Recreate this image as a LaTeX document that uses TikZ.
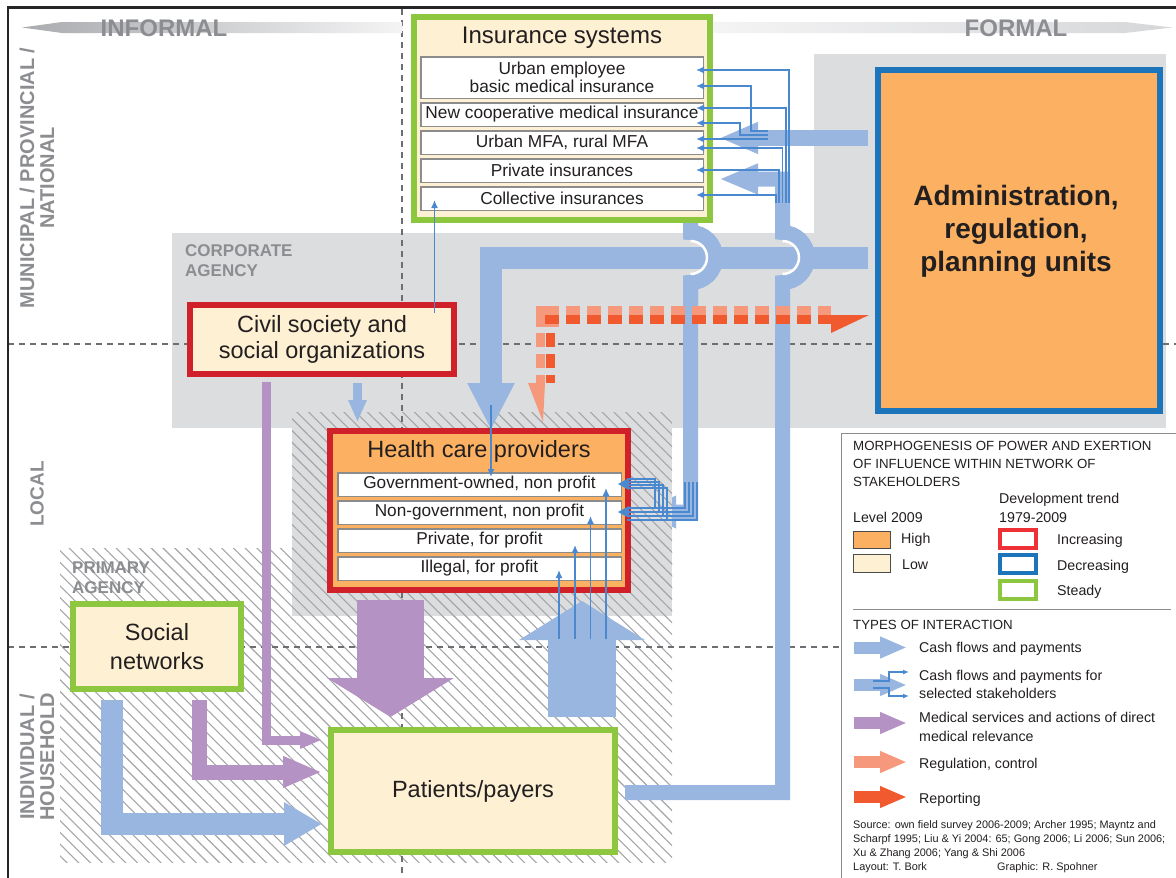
\documentclass[tikz,border=0pt]{standalone}
\usepackage{fontspec}
\setmainfont{Liberation Sans}
\usetikzlibrary{arrows.meta,patterns.meta}
\definecolor{cashblue}{HTML}{98B6DF}
\definecolor{thinblue}{HTML}{4A89CF}
\definecolor{purp}{HTML}{B592C4}
\definecolor{salm}{HTML}{F5987B}
\definecolor{repred}{HTML}{F15A2F}
\definecolor{grayreg}{HTML}{DCDDDE}
\definecolor{hatchc}{HTML}{A3A5A8}
\definecolor{labgray}{HTML}{8B8D90}
\definecolor{dashc}{HTML}{6D6E71}
\definecolor{creamf}{HTML}{FEF0D3}
\definecolor{orangef}{HTML}{FBB161}
\definecolor{greenb}{HTML}{8DC63F}
\definecolor{redb}{HTML}{D0202A}
\definecolor{legred}{HTML}{EE3137}
\definecolor{blueb}{HTML}{1C75BB}
\definecolor{rowgray}{HTML}{8C8C8C}
\definecolor{textc}{HTML}{231F20}
\definecolor{hdrdark}{HTML}{A9ABAE}
\definecolor{hdrlight}{HTML}{F4F4F5}
\definecolor{hdrmid}{HTML}{D6D7D9}
\newcommand{\fsz}[2]{\fontsize{#1}{#2}\selectfont}
\tikzset{
 box/.style={line width=6pt, inner sep=0pt, text=textc, align=center},
 greenbox/.style={box, draw=greenb, fill=creamf},
 redbox/.style={box, draw=redb},
 row/.style={draw=rowgray, fill=white, line width=1.5pt, inner sep=0pt, minimum height=23.5pt, text=textc, align=center},
 tline/.style={draw=thinblue, line width=1.4pt},
 tarr/.style={tline, -{Latex[length=8pt,width=7pt]}},
 lbl/.style={text=labgray, font=\bfseries\fsz{20}{20}, inner sep=0pt, align=center},
 dashsep/.style={draw=dashc, line width=1.8pt, dash pattern=on 6pt off 5pt},
 hatchfill/.style={pattern={Lines[angle=-45,distance=8.3pt,line width=1.1pt]}, pattern color=hatchc},
 leg/.style={inner sep=0pt, anchor=base west, text=textc, font=\fsz{14.2}{16}},
 legc/.style={inner sep=0pt, anchor=base west, text=textc, font=\fsz{13.3}{16}},
 src/.style={inner sep=0pt, anchor=base west, text=textc, font=\fsz{10.9}{14}},
 txt/.style={inner sep=0pt, text=textc, align=center},
 regdash/.style={line width=9pt, dash pattern=on 14pt off 7pt},
}
\begin{document}
\begin{tikzpicture}[x=1pt,y=-1pt]
\useasboundingbox (0,0) rectangle (1176,878);
\fill[white] (0,0) rectangle (1176,878);
% regions
\fill[grayreg] (814,54) rectangle (1166,233);
\fill[grayreg] (172,233) rectangle (1166,428);
\fill[hatchfill] (60,548) rectangle (672,862);
% separators
\draw[dashsep] (8,344) -- (1176,344);
\draw[dashsep] (8,647) -- (1176,647);
\draw[dashsep] (402,9) -- (402,878);
% insurance -> providers (full, head under region)
\coordinate (insB) at (690.5,220);
\coordinate (hpR) at (640,512);
\draw[cashblue, line width=15pt, -{Triangle[length=36pt,width=30pt]}] (insB) -- (690.5,232.5) arc[start angle=-90,end angle=90,radius=25] -- (690.5,512) -- (hpR);
% health region
\fill[grayreg] (292,412) rectangle (672,616);
\fill[hatchfill] (292,412) rectangle (672,616);
\draw[dashsep] (402,9) -- (402,878);
% admin -> providers
\coordinate (admL) at (868,257.5);
\coordinate (hpT) at (491,430);
\draw[cashblue, line width=22pt, -{Triangle[length=47pt,width=44pt]}] (admL) -- (491,257.5) -- (hpT);
% bridge redraw
\draw[cashblue, line width=15pt] (insB) -- (690.5,232.5) arc[start angle=-90,end angle=90,radius=25] -- (690.5,300);
\draw[white, line width=2.5pt] (690.5,241) arc[start angle=-90,end angle=90,radius=16.5];
% patients -> insurance
\coordinate (patR) at (625,792.5);
\coordinate (insR2) at (719,179);
\draw[cashblue, line width=15pt, -{Triangle[length=39pt,width=28pt]}] (patR) -- (782.5,792.5) -- (782.5,282.5) arc[start angle=90,end angle=-90,radius=25] -- (782.5,179) -- (insR2);
\draw[white, line width=2.5pt] (782.5,241) arc[start angle=-90,end angle=90,radius=16.5];
% admin -> insurance
\coordinate (admL2) at (868,138);
\coordinate (insR1) at (719,138);
\draw[cashblue, line width=16pt, -{Triangle[length=39pt,width=29pt]}] (admL2) -- (insR1);
% patients -> providers big up arrow
\coordinate (patT) at (582,717);
\coordinate (hpB) at (582,601);
\draw[cashblue, line width=68pt, -{Triangle[length=39pt,width=124pt]}] (patT) -- (hpB);
% providers -> patients big purple
\coordinate (hpB2) at (390.5,600);
\coordinate (patT2) at (390.5,717);
\draw[purp, line width=67pt, -{Triangle[length=39pt,width=125pt]}] (hpB2) -- (patT2);
% civil -> patients purple
\coordinate (civB) at (266,382);
\coordinate (patL1) at (322,740);
\draw[purp, line width=9pt, -{Triangle[length=22pt,width=16pt]}] (civB) -- (266,740) -- (patL1);
% social -> patients purple
\coordinate (socB1) at (199.5,700);
\coordinate (patL2) at (322,772);
\draw[purp, line width=15pt, -{Triangle[length=39pt,width=29pt]}] (socB1) -- (199.5,772) -- (patL2);
% social -> patients blue
\coordinate (socB2) at (111.5,700);
\coordinate (patL3) at (322,824);
\draw[cashblue, line width=22pt, -{Triangle[length=38pt,width=41pt]}] (socB2) -- (111.5,824) -- (patL3);
% civil -> providers small blue
\coordinate (civB2) at (357.5,383);
\coordinate (hpT2) at (357.5,422);
\draw[cashblue, line width=9pt, -{Triangle[length=22pt,width=17pt]}] (civB2) -- (hpT2);
% regulation / reporting
\coordinate (admS) at (831,310.5);
\coordinate (hpS) at (540.5,383);
\coordinate (hpS2) at (550,383);
\coordinate (admS2) at (831,319.5);
\fill[salm] (536,306) rectangle (559,327);
\fill[repred] (545,315) rectangle (559,324);
\draw[salm, regdash] (566,310.5) -- (admS);
\draw[repred, regdash] (566,319.5) -- (admS2);
\draw[salm, regdash] (540.5,333) -- (hpS);
\draw[repred, regdash] (550,333) -- (hpS2);
\fill[salm] (528,383) -- (545,383) -- (543,422) -- cycle;
\fill[repred] (831,315) -- (869,315) -- (831,333) -- cycle;
% header
\shade[left color=hdrdark, right color=hdrlight] (22,27.5) -- (62,22) -- (402,22) -- (402,33) -- (62,33) -- cycle;
\shade[left color=hdrlight, right color=hdrmid] (713,22) -- (1125,22) -- (1172,27.5) -- (1125,33) -- (713,33) -- cycle;
\node[lbl, font=\bfseries\fsz{24}{26}] (informal) at (164,28) {INFORMAL};
\node[lbl, font=\bfseries\fsz{24}{26}] (formal) at (1016,28) {FORMAL};
% frame
\draw[black!85, line width=2.5pt] (8,878) -- (8,7.5) -- (1176,7.5);
% side labels
\node[lbl, rotate=90] (lmun) at (37,178) {MUNICIPAL / PROVINCIAL /\\NATIONAL};
\node[lbl, rotate=90, font=\bfseries\fsz{19}{20}] (lloc) at (37,494) {LOCAL};
\node[lbl, rotate=90] (lind) at (37,757) {INDIVIDUAL /\\HOUSEHOLD};
\node[lbl, font=\bfseries\fsz{17}{20}, align=left, anchor=north west] (corp) at (185,244) {CORPORATE\\AGENCY};
\node[lbl, font=\bfseries\fsz{17}{20}, align=left, anchor=north west] (prim) at (72,562) {PRIMARY\\AGENCY};
% boxes
\node[greenbox, minimum width=296pt, minimum height=203pt] (ins) at (562,118.5) {};
\node[txt, font=\fsz{24}{26}] (institle) at (562,38) {Insurance systems};
\node[row, minimum width=282.5pt, minimum height=41.5pt, font=\fsz{17.3}{18}] (ins1) at (562,77.5) {Urban employee\\basic medical insurance};
\node[row, minimum width=282.5pt, font=\fsz{17.3}{18}] (ins2) at (562,114.5) {New cooperative medical insurance};
\node[row, minimum width=282.5pt, font=\fsz{17.3}{18}] (ins3) at (562,142.5) {Urban MFA, rural MFA};
\node[row, minimum width=282.5pt, font=\fsz{17.3}{18}] (ins4) at (562,170.5) {Private insurances};
\node[row, minimum width=282.5pt, font=\fsz{17.3}{18}] (ins5) at (562,198.5) {Collective insurances};
\node[box, draw=blueb, fill=orangef, minimum width=282pt, minimum height=341pt] (admin) at (1019,240.5) {};
\node[txt, font=\bfseries\fsz{28}{33}] (admintxt) at (1016,231) {Administration,\\regulation,\\planning units};
\node[redbox, fill=creamf, minimum width=264pt, minimum height=69pt, font=\fsz{23.5}{26}] (civil) at (322,339.5) {Civil society and\\social organizations};
\node[redbox, fill=orangef, minimum width=298pt, minimum height=159pt] (health) at (479,510.5) {};
\node[txt, font=\fsz{23.5}{26}] (healthtitle) at (479,451) {Health care providers};
\node[row, minimum width=283.5pt, font=\fsz{17.2}{18}] (hp1) at (479.5,484.5) {Government-owned, non profit};
\node[row, minimum width=283.5pt, font=\fsz{17.2}{18}] (hp2) at (479.5,512.5) {Non-government, non profit};
\node[row, minimum width=283.5pt, font=\fsz{17.2}{18}] (hp3) at (479.5,540.5) {Private, for profit};
\node[row, minimum width=283.5pt, font=\fsz{17.2}{18}] (hp4) at (479.5,568.5) {Illegal, for profit};
\node[greenbox, minimum width=168pt, minimum height=85pt, font=\fsz{23.5}{29}] (social) at (157,646.5) {Social\\networks};
\node[greenbox, minimum width=284pt, minimum height=122pt, font=\fsz{23.5}{26}] (pat) at (473,791) {Patients/payers};
% thin lines to insurance
\draw[tarr] (768,131) -- (751,131) -- (751,86) -- (696,86);
\draw[tarr] (768,135) -- (740,135) -- (740,123) -- (696,123);
\draw[tarr] (768,139) -- (696,139);
\draw[tarr] (789,203) -- (789,70) -- (696,70);
\draw[tarr] (786,203) -- (786,108) -- (696,108);
\draw[tarr] (782.5,203) -- (782.5,148) -- (696,148);
\draw[tarr] (779,203) -- (779,170) -- (696,170);
\draw[tarr] (776,203) -- (776,195) -- (696,195);
% thin lines to providers
\foreach \k in {0,1,2,3} {
  \pgfmathsetmacro\xx{685+4*\k}
  \pgfmathsetmacro\yy{508+4*\k}
  \pgfmathsetmacro\xu{655+4*\k}
  \pgfmathsetmacro\yu{479+3*\k}
  \draw[tline] (\xx,482) -- (\xx,\yy) -- (627,\yy);
  \draw[tline] (\xu,\yy) -- (\xu,\yu) -- (627,\yu);
}
\fill[thinblue] (618,484) -- (629,478) -- (629,490) -- cycle;
\fill[thinblue] (618,512) -- (629,506) -- (629,518) -- cycle;
\draw[tarr] (559,639) -- (559,570);
\draw[tarr] (575,639) -- (575,545);
\draw[tarr] (590.5,639) -- (590.5,516);
\draw[tarr] (606,639) -- (606,488);
\draw[tarr] (434.5,313) -- (434.5,200);
\draw[tarr] (491,405) -- (491,477);
% legend
\node[draw=rowgray, fill=white, line width=1pt, inner sep=0pt, minimum width=345pt, minimum height=455pt, anchor=north west] (legend) at (840.5,433) {};
\node[legc] (lt1) at (853,450) {MORPHOGENESIS OF POWER AND EXERTION};
\node[legc] (lt2) at (853,468) {OF INFLUENCE WITHIN NETWORK OF};
\node[legc] (lt3) at (853,486) {STAKEHOLDERS};
\node[leg] (ldev) at (999,503) {Development trend};
\node[leg] (lyrs) at (999,522) {1979-2009};
\node[leg] (llev) at (853,522) {Level 2009};
\node[draw=black!70, fill=orangef, line width=1pt, minimum width=37pt, minimum height=17pt, inner sep=0pt] (swH) at (872,539.5) {};
\node[draw=black!70, fill=creamf, line width=1pt, minimum width=37pt, minimum height=18pt, inner sep=0pt] (swL) at (872,563.5) {};
\node[leg] (lhigh) at (901,543) {High};
\node[leg] (llow) at (902,569) {Low};
\node[draw=legred, line width=4pt, minimum width=36pt, minimum height=18pt, inner sep=0pt] (swI) at (1017.5,539) {};
\node[draw=blueb, line width=4pt, minimum width=36pt, minimum height=18pt, inner sep=0pt] (swD) at (1017.5,564) {};
\node[draw=greenb, line width=4pt, minimum width=36pt, minimum height=18pt, inner sep=0pt] (swS) at (1017.5,590) {};
\node[leg] (linc) at (1057,544) {Increasing};
\node[leg] (ldec) at (1057,570) {Decreasing};
\node[leg] (lste) at (1057,595) {Steady};
\coordinate (sepL) at (853,609);
\coordinate (sepR) at (1171,609);
\draw[rowgray, line width=1pt] (sepL) -- (sepR);
\node[legc] (ltyp) at (853,629) {TYPES OF INTERACTION};
\coordinate (a1s) at (854,647.5); \coordinate (a1e) at (907,647.5);
\draw[cashblue, line width=12pt, -{Triangle[length=27pt,width=20pt]}] (a1s) -- (a1e);
\coordinate (a2s) at (854,685); \coordinate (a2e) at (907,685);
\draw[cashblue, line width=12pt, -{Triangle[length=27pt,width=20pt]}] (a2s) -- (a2e);
\draw[tline, -{Latex[length=6pt,width=5pt]}] (873,681) -- (889,681) -- (889,672) -- (909,672);
\draw[tline, -{Latex[length=6pt,width=5pt]}] (873,688) -- (889,688) -- (889,696) -- (909,696);
\coordinate (a3s) at (854,723); \coordinate (a3e) at (907,723);
\draw[purp, line width=12pt, -{Triangle[length=27pt,width=20pt]}] (a3s) -- (a3e);
\coordinate (a4s) at (854,762); \coordinate (a4e) at (907,762);
\draw[salm, line width=12pt, -{Triangle[length=27pt,width=20pt]}] (a4s) -- (a4e);
\coordinate (a5s) at (854,797); \coordinate (a5e) at (907,797);
\draw[repred, line width=12pt, -{Triangle[length=27pt,width=20pt]}] (a5s) -- (a5e);
\node[leg] (lcash) at (919,652) {Cash flows and payments};
\node[leg] (lsel1) at (919,680) {Cash flows and payments for};
\node[leg] (lsel2) at (919,698) {selected stakeholders};
\node[leg] (lmed1) at (919,722) {Medical services and actions of direct};
\node[leg] (lmed2) at (919,741) {medical relevance};
\node[leg] (lreg) at (919,768) {Regulation, control};
\node[leg] (lrep) at (919,803) {Reporting};
\node[src] (s1) at (853,828) {Source: own field survey 2006-2009; Archer 1995; Mayntz and};
\node[src] (s2) at (853,842) {Scharpf 1995; Liu \& Yi 2004: 65; Gong 2006; Li 2006; Sun 2006;};
\node[src] (s3) at (853,856) {Xu \& Zhang 2006; Yang \& Shi 2006};
\node[src] (s4) at (853,870) {Layout: T. Bork};
\node[src] (s5) at (997,870) {Graphic: R. Spohner};
\end{tikzpicture}
\end{document}
